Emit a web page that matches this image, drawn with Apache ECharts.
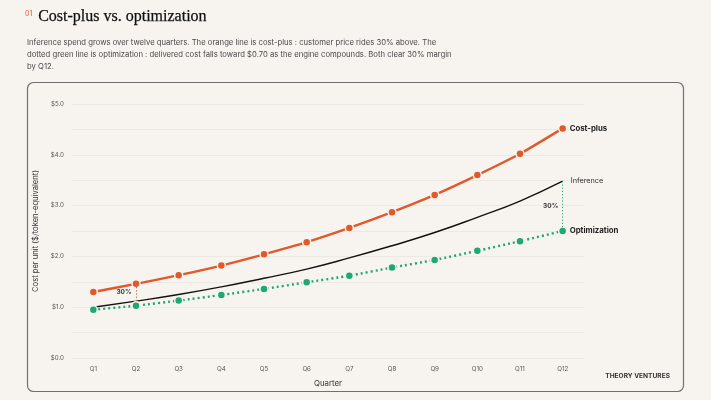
<!DOCTYPE html>
<html>
<head>
<meta charset="utf-8">
<script src="https://cdn.jsdelivr.net/npm/echarts@6/dist/echarts.min.js"></script>
<style>
  html, body { margin: 0; padding: 0; background: #f7f4f0; }
  #chart { width: 711px; height: 400px; }
</style>
</head>
<body>
<div id="chart"></div>
<script>
// data
var quarters = ['Q1', 'Q2', 'Q3', 'Q4', 'Q5', 'Q6', 'Q7', 'Q8', 'Q9', 'Q10', 'Q11', 'Q12'];
var costPlus = [1.30, 1.46, 1.63, 1.82, 2.04, 2.28, 2.56, 2.87, 3.21, 3.60, 4.02, 4.52];
var inference = [1.00, 1.12, 1.25, 1.40, 1.57, 1.75, 1.97, 2.21, 2.47, 2.77, 3.09, 3.48];
var optimization = [0.95, 1.03, 1.13, 1.24, 1.36, 1.49, 1.62, 1.78, 1.93, 2.11, 2.30, 2.50];
var subtitleLines = [
  'Inference spend grows over twelve quarters. The orange line is cost-plus : customer price rides 30% above. The',
  'dotted green line is optimization : delivered cost falls toward $0.70 as the engine compounds. Both clear 30% margin',
  'by Q12.'
];

var bg = '#f7f4f0';
var orange = '#e0592a';
var green = '#1fa774';
var sans = 'Inter, "Noto Sans", sans-serif';

var myChart = echarts.init(document.getElementById('chart'));

var option = {
  backgroundColor: bg,
  animation: false,
  textStyle: { fontFamily: sans },
  graphic: [
    {
      type: 'rect', z: -10,
      shape: { x: 27.5, y: 82.5, width: 656, height: 309, r: 6 },
      style: { fill: bg, stroke: '#707070', lineWidth: 1.2 }
    },
    {
      type: 'text', left: 25, top: 10,
      style: { text: '01', fill: orange, font: '7px ' + sans }
    },
    {
      type: 'text', left: 38, top: 9,
      style: { text: 'Cost-plus vs. optimization', fill: '#111', font: '16px "Liberation Serif", serif', stroke: '#111', lineWidth: 0.25 }
    },
    {
      type: 'text', left: 27, top: 37,
      style: { text: subtitleLines.join('\n'), fill: '#4a4a4a', font: '7.7px ' + sans, lineHeight: 12 }
    },
    {
      type: 'text', right: 41, top: 373,
      style: { text: 'THEORY VENTURES', fill: '#333', font: 'bold 6.6px ' + sans, letterSpacing: 0.7 }
    }
  ],
  grid: {
    left: 72,
    right: 127,
    top: 104,
    bottom: 42,
    outerBoundsMode: 'none'
  },
  xAxis: {
    type: 'category',
    data: quarters,
    boundaryGap: true,
    name: 'Quarter',
    nameLocation: 'middle',
    nameGap: 22,
    nameTextStyle: { color: '#333', fontSize: 7.8 },
    axisLine: { show: false },
    axisTick: { show: false },
    axisLabel: { color: '#555', fontSize: 6.2, margin: 8 }
  },
  yAxis: {
    type: 'value',
    min: 0,
    max: 5,
    interval: 0.5,
    name: 'Cost per unit ($/token-equivalent)',
    nameLocation: 'middle',
    nameGap: 32,
    nameTextStyle: { color: '#333', fontSize: 7.6 },
    axisLine: { show: false },
    axisTick: { show: false },
    axisLabel: {
      color: '#555', fontSize: 6.2, margin: 8,
      formatter: function (v) {
        return Math.abs(v % 1) < 1e-9 ? '$' + v.toFixed(1) : '';
      }
    },
    splitLine: { lineStyle: { color: '#ece8e2', width: 1 } }
  },
  series: [
    {
      name: 'Inference',
      type: 'line',
      data: inference,
      smooth: true,
      showSymbol: false,
      symbol: 'none',
      lineStyle: { color: '#111', width: 1.4 },
      z: 3,
      endLabel: {
        show: true, formatter: 'Inference', color: '#333', fontSize: 7.3, distance: 8
      },
      markLine: {
        silent: true,
        symbol: 'none',
        label: { show: false },
        data: [
          [
            { coord: ['Q2', costPlus[1]], lineStyle: { color: '#c0634a', type: [1.2, 2], width: 1 } },
            { coord: ['Q2', inference[1]] }
          ],
          [
            { coord: ['Q12', inference[11]], lineStyle: { color: green, type: [1.2, 2], width: 1 } },
            { coord: ['Q12', optimization[11]] }
          ]
        ]
      },
      markPoint: {
        silent: true,
        symbol: 'circle',
        symbolSize: 0,
        label: {
          show: true, color: '#333', fontSize: 6.5, fontWeight: 'bold',
          formatter: '30%', position: 'inside'
        },
        data: [
          { coord: ['Q2', 1.30], label: { offset: [-12, 0] } },
          { coord: ['Q12', 2.99], label: { offset: [-12, 0] } }
        ]
      }
    },
    {
      name: 'Cost-plus',
      type: 'line',
      data: costPlus,
      smooth: 0.2,
      symbol: 'circle',
      symbolSize: 8,
      lineStyle: { color: orange, width: 2.4 },
      itemStyle: { color: orange, borderColor: bg, borderWidth: 1.5 },
      z: 4,
      endLabel: {
        show: true, formatter: 'Cost-plus', color: '#222', fontSize: 7.8, fontWeight: 'bold', distance: 7
      }
    },
    {
      name: 'Optimization',
      type: 'line',
      data: optimization,
      smooth: 0.2,
      symbol: 'circle',
      symbolSize: 8,
      lineStyle: { color: green, width: 2.4, type: [2, 3] },
      itemStyle: { color: green, borderColor: bg, borderWidth: 1.5 },
      z: 4,
      endLabel: {
        show: true, formatter: 'Optimization', color: '#222', fontSize: 7.8, fontWeight: 'bold', distance: 7
      }
    }
  ]
};

myChart.setOption(option);
</script>
</body>
</html>
